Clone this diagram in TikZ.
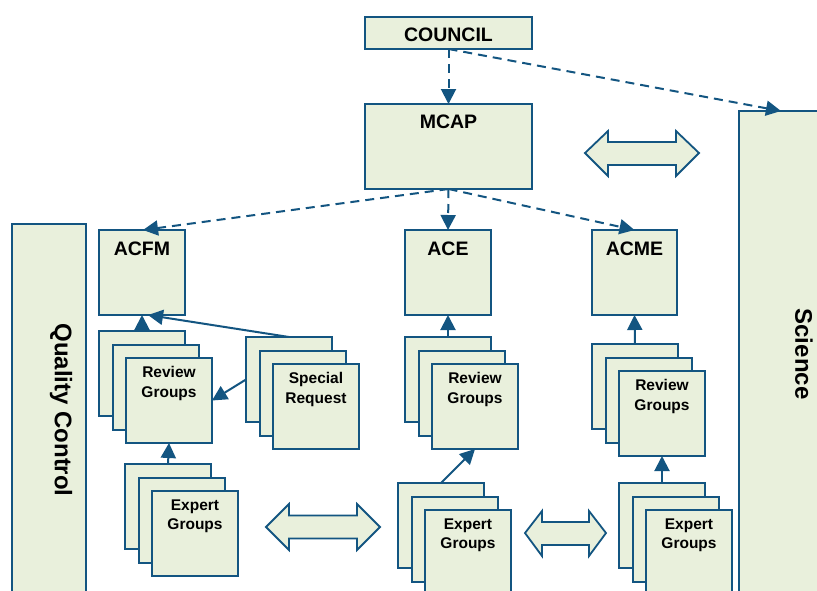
\documentclass[tikz,border=0pt]{standalone}
\usepackage{fontspec}
\setmainfont{Liberation Sans}
\usetikzlibrary{arrows.meta,calc}
\definecolor{fillc}{HTML}{E9F0DC}
\definecolor{bord}{HTML}{135581}
\tikzset{
  box/.style={draw=bord, fill=fillc, line width=2pt, minimum width=86pt, minimum height=85pt, inner sep=0pt, outer sep=0pt, anchor=north west},
  lbl/.style={font=\bfseries\fontsize{15.5}{19.5}\selectfont, align=center, inner sep=0pt, anchor=north},
  big/.style={font=\bfseries\fontsize{19.5}{22}\selectfont, inner sep=0pt, anchor=base},
  bar/.style={font=\bfseries\fontsize{24}{28}\selectfont, inner sep=0pt, rotate=-90},
  arr/.style={draw=bord, line width=2pt, -{Triangle[length=15pt,width=15pt]}},
  darr/.style={arr, dash pattern=on 9pt off 6pt},
  dbl/.style={draw=bord, fill=fillc, line width=1.8pt, line join=miter}
}
\newcommand\mystack[4]{%
  \node[box] (#1a) at (#2,#3) {};
  \node[box] (#1b) at (#2+13.5,#3+13.5) {};
  \node[box] (#1c) at (#2+27,#3+27) {};
  \node[lbl] (#1t) at ([yshift=-8.5pt]#1c.north) {#4};
}
\begin{document}
\begin{tikzpicture}[x=1pt,y=-1pt]
\clip (0,0) rectangle (817,590);
\fill[white] (0,0) rectangle (817,590);
% bars
\node[box, minimum width=74pt, minimum height=420pt] (qc) at (12,224) {};
\node[bar] (qct) at (61,410) {Quality Control};
\node[box, minimum width=160pt, minimum height=520pt] (sci) at (739,111) {};
\node[bar] (scit) at (804,354) {Science};
% top boxes
\node[box, minimum width=167pt, minimum height=32pt] (council) at (365,17) {};
\node[big] (councilt) at (448.5,41) {COUNCIL};
\node[box, minimum width=167pt, minimum height=85pt] (mcap) at (365,104) {};
\node[big] (mcapt) at (448.5,128) {MCAP};
\node[box] (acfm) at (99,230) {};
\node[big] (acfmt) at (142,255) {ACFM};
\node[box] (ace) at (405,230) {};
\node[big] (acet) at (448,255) {ACE};
\node[box, minimum width=85pt] (acme) at (592,230) {};
\node[big] (acmet) at (634.5,255) {ACME};
% stacks
\mystack{frg}{99}{331}{Review\\Groups}
\mystack{sr}{246}{337}{Special\\Request}
\mystack{feg}{125}{464}{Expert\\Groups}
\mystack{erg}{405}{337}{Review\\Groups}
\mystack{eeg}{398}{483}{Expert\\Groups}
\mystack{mrg}{592}{344}{Review\\Groups}
\mystack{meg}{619}{483}{Expert\\Groups}
% solid arrows
\draw[arr] (frga.north) -- (acfm.south);
\draw[arr] (sra.north) -- ([xshift=6pt]acfm.south);
\draw[arr] (sra.west) -- (frgc.east);
\draw[arr] (fega.north) -- (frgc.south);
\draw[arr] (erga.north) -- (ace.south);
\draw[arr] (eega.north) -- (ergc.south);
\draw[arr] (mrga.north) -- (acme.south);
\draw[arr] (mega.north) -- (mrgc.south);
% dashed arrows
\coordinate (scitop) at ($(sci.north west)+(42,0)$);
\draw[darr] (council.south) -- (mcap.north);
\draw[darr] (council.south) -- (scitop);
\draw[darr] (mcap.south) -- ([xshift=1pt]acfm.north);
\draw[darr] (mcap.south) -- (ace.north);
\draw[darr] (mcap.south) -- (acme.north);
% double arrows
\draw[dbl] (585,153) -- (608,131) -- (608,142) -- (676,142) -- (676,131) -- (699,153) -- (676,176) -- (676,165) -- (608,165) -- (608,176) -- cycle;
\draw[dbl] (266,527) -- (289,504) -- (289,515.5) -- (357,515.5) -- (357,504) -- (380,527) -- (357,550) -- (357,538.5) -- (289,538.5) -- (289,550) -- cycle;
\draw[dbl] (525,533) -- (542,511) -- (542,522) -- (589,522) -- (589,511) -- (606,533) -- (589,556) -- (589,545) -- (542,545) -- (542,556) -- cycle;
\end{tikzpicture}
\end{document}
